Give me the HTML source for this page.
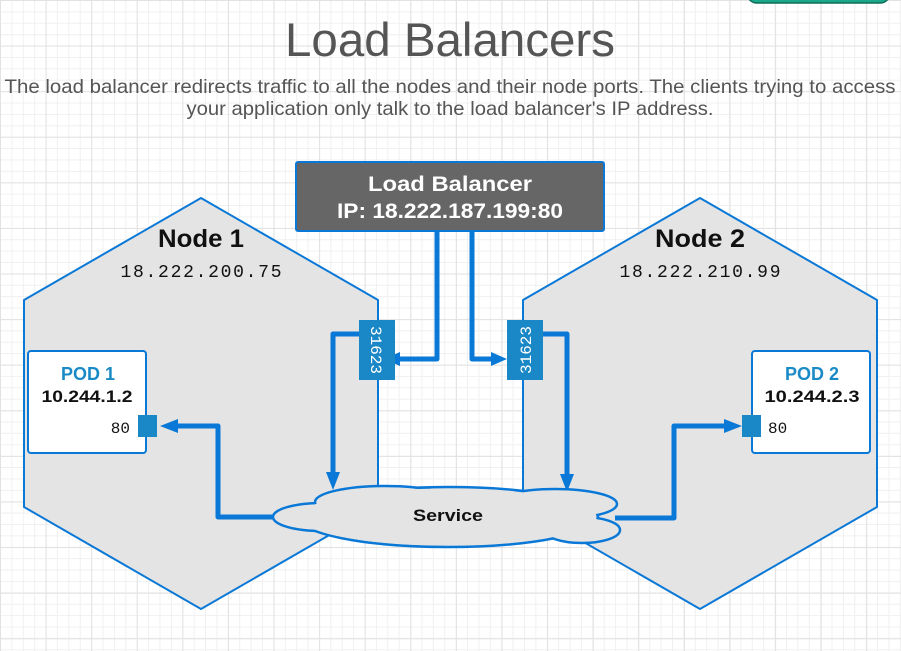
<!DOCTYPE html>
<html><head><meta charset="utf-8"><style>
html,body{margin:0;padding:0;}
body{width:901px;height:651px;overflow:hidden;background:#fff;
background-image:linear-gradient(#e2e2e2 1px,transparent 1px),linear-gradient(90deg,#e2e2e2 1px,transparent 1px),linear-gradient(#f0f0f0 1px,transparent 1px),linear-gradient(90deg,#f0f0f0 1px,transparent 1px);
background-size:45.6px 45.6px,45.6px 45.6px,11.4px 11.4px,11.4px 11.4px;}
svg{position:absolute;left:0;top:0}
</style></head><body>
<svg width="901" height="651" viewBox="0 0 901 651" font-family="Liberation Sans, sans-serif">
<rect x="747" y="-20" width="143" height="23" rx="10" fill="#1aa88a" stroke="#0e6e5a" stroke-width="1.5"/>
<text x="450" y="56" text-anchor="middle" font-size="47" fill="#555" textLength="330" lengthAdjust="spacingAndGlyphs">Load Balancers</text>
<text x="450" y="93" text-anchor="middle" font-size="19.5" fill="#555" textLength="891" lengthAdjust="spacingAndGlyphs">The load balancer redirects traffic to all the nodes and their node ports. The clients trying to access</text>
<text x="450" y="115" text-anchor="middle" font-size="19.5" fill="#555" textLength="527" lengthAdjust="spacingAndGlyphs">your application only talk to the load balancer's IP address.</text>

<polygon points="201,198 378,300 378,507 201,609 24,507 24,300" fill="#e4e4e4" stroke="#0a78d6" stroke-width="2" stroke-linejoin="round"/>
<polygon points="700,198 877,300 877,507 700,609 523,507 523,300" fill="#e4e4e4" stroke="#0a78d6" stroke-width="2" stroke-linejoin="round"/>
<text x="201" y="247" text-anchor="middle" font-size="25" font-weight="bold" fill="#111" textLength="86" lengthAdjust="spacingAndGlyphs">Node 1</text>
<text x="201" y="277" text-anchor="middle" font-size="18" font-family="Liberation Mono, monospace" fill="#111" textLength="161" lengthAdjust="spacing">18.222.200.75</text>
<text x="700" y="247" text-anchor="middle" font-size="25" font-weight="bold" fill="#111" textLength="90" lengthAdjust="spacingAndGlyphs">Node 2</text>
<text x="700" y="277" text-anchor="middle" font-size="18" font-family="Liberation Mono, monospace" fill="#111" textLength="161" lengthAdjust="spacing">18.222.210.99</text>

<rect x="28" y="351" width="118" height="102" rx="3" fill="#fff" stroke="#0a78d6" stroke-width="2"/>
<text x="88" y="380" text-anchor="middle" font-size="18" font-weight="bold" fill="#1a8ac6">POD 1</text>
<text x="87" y="402" text-anchor="middle" font-size="17" font-weight="bold" fill="#111" textLength="91" lengthAdjust="spacingAndGlyphs">10.244.1.2</text>
<text x="130" y="433" text-anchor="end" font-size="16" font-family="Liberation Mono, monospace" fill="#111">80</text>
<rect x="138" y="415" width="19" height="22" fill="#1a87c6"/>

<rect x="752" y="351" width="118" height="102" rx="3" fill="#fff" stroke="#0a78d6" stroke-width="2"/>
<text x="812" y="380" text-anchor="middle" font-size="18" font-weight="bold" fill="#1a8ac6">POD 2</text>
<text x="812" y="402" text-anchor="middle" font-size="17" font-weight="bold" fill="#111" textLength="95" lengthAdjust="spacingAndGlyphs">10.244.2.3</text>
<text x="768" y="433" font-size="16" font-family="Liberation Mono, monospace" fill="#111">80</text>
<rect x="742" y="415" width="19" height="22" fill="#1a87c6"/>

<rect x="296" y="162" width="308" height="69" rx="2" fill="#666" stroke="#0a78d6" stroke-width="2"/>
<text x="450" y="191" text-anchor="middle" font-size="21" font-weight="bold" fill="#fff" textLength="164" lengthAdjust="spacingAndGlyphs">Load Balancer</text>
<text x="450" y="218" text-anchor="middle" font-size="21" font-weight="bold" fill="#fff" textLength="226" lengthAdjust="spacingAndGlyphs">IP: 18.222.187.199:80</text>

<g fill="none" stroke="#0a78d6" stroke-width="5" stroke-linejoin="round">
<path d="M437,231 V359 H395"/>
<path d="M472,231 V359 H495"/>
<path d="M363,334 H333 V475"/>
<path d="M540,334 H567 V477"/>
<path d="M280,517 H218 V426 H172"/>
<path d="M615,518 H674 V426 H730"/>
</g>
<g fill="#0a78d6">
<polygon points="384,359 400,352 400,366"/>
<polygon points="507,359 491,352 491,366"/>
<polygon points="333,490 326,472 340,472"/>
<polygon points="567,492 560,474 574,474"/>
<polygon points="160,426 178,419 178,433"/>
<polygon points="742,426 724,419 724,433"/>
</g>

<rect x="359" y="320" width="36" height="60" fill="#1a87c6"/>
<text transform="translate(371,350) rotate(90)" text-anchor="middle" font-size="16" font-family="Liberation Mono, monospace" fill="#fff">31623</text>
<rect x="507" y="320" width="36" height="60" fill="#1a87c6"/>
<text transform="translate(531,350) rotate(-90)" text-anchor="middle" font-size="16" font-family="Liberation Mono, monospace" fill="#fff">31623</text>

<g stroke="#0a78d6" stroke-width="2.5" fill="#e4e4e4">
<ellipse cx="448" cy="517" rx="150" ry="30"/>
<ellipse cx="322" cy="517" rx="49" ry="14"/>
<ellipse cx="385" cy="502" rx="70" ry="16"/>
<ellipse cx="555" cy="504" rx="62" ry="15"/>
<ellipse cx="582" cy="530" rx="38" ry="13"/>
</g>
<g fill="#e4e4e4">
<ellipse cx="448" cy="517" rx="148.5" ry="28.5"/>
<ellipse cx="322" cy="517" rx="47.5" ry="12.5"/>
<ellipse cx="385" cy="502" rx="68.5" ry="14.5"/>
<ellipse cx="555" cy="504" rx="60.5" ry="13.5"/>
<ellipse cx="582" cy="530" rx="36.5" ry="11.5"/>
</g>
<text x="448" y="521" text-anchor="middle" font-size="17" font-weight="bold" fill="#111" textLength="70" lengthAdjust="spacingAndGlyphs">Service</text>
</svg>
</body></html>
